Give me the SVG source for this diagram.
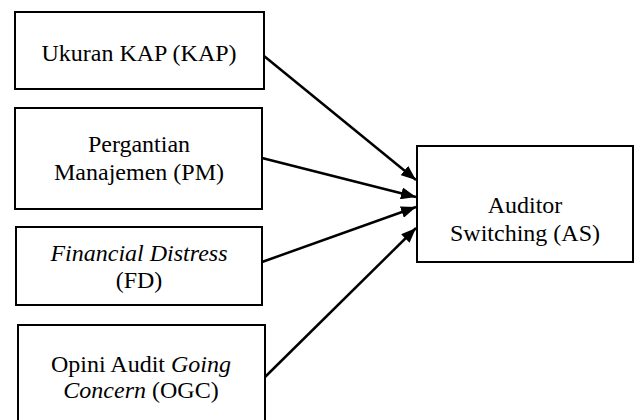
<svg xmlns="http://www.w3.org/2000/svg" width="637" height="420" viewBox="0 0 637 420">
<style>
.box{fill:#fff;stroke:#000;stroke-width:2}
.t{font-family:"Liberation Serif","Times New Roman",serif;font-size:24px;fill:#000;text-anchor:middle}
.i{font-style:italic}
.c{stroke:#000;stroke-width:2.5;fill:none}
</style>
<defs>
<marker id="ah" markerUnits="userSpaceOnUse" markerWidth="16" markerHeight="12" refX="15" refY="6" orient="auto">
<path d="M0,0 L15,6 L0,12 Z" fill="#000"/>
</marker>
</defs>
<rect width="637" height="420" fill="#fff"/>
<g id="kap">
<rect class="box" x="15" y="12" width="249" height="77"/>
<text class="t" x="139" y="61">Ukuran KAP (KAP)</text>
</g>
<g id="pm">
<rect class="box" x="15" y="108" width="247" height="101"/>
<text class="t" x="139" y="152">Pergantian</text>
<text class="t" x="139" y="180">Manajemen (PM)</text>
</g>
<g id="fd">
<rect class="box" x="16" y="227" width="246" height="78"/>
<text class="t i" x="139" y="261">Financial Distress</text>
<text class="t" x="139" y="288">(FD)</text>
</g>
<g id="ogc">
<rect class="box" x="18" y="325" width="247" height="110"/>
<text class="t" x="141" y="372">Opini Audit <tspan class="i">Going</tspan></text>
<text class="t" x="141" y="398"><tspan class="i">Concern</tspan> (OGC)</text>
</g>
<g id="as">
<rect class="box" x="417" y="146" width="216" height="116"/>
<text class="t" x="525" y="213">Auditor</text>
<text class="t" x="525" y="241">Switching (AS)</text>
</g>
<g id="connectors">
<line class="c" x1="264" y1="56" x2="416" y2="180" marker-end="url(#ah)"/>
<line class="c" x1="262" y1="158" x2="416" y2="197" marker-end="url(#ah)"/>
<line class="c" x1="262" y1="262" x2="416" y2="207" marker-end="url(#ah)"/>
<line class="c" x1="265" y1="377" x2="416" y2="228" marker-end="url(#ah)"/>
</g>
</svg>
